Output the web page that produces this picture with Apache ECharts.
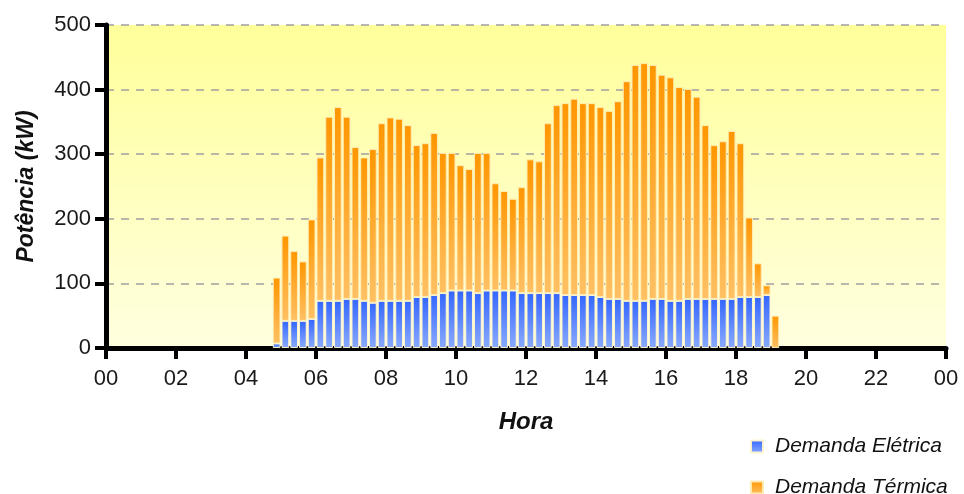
<!DOCTYPE html>
<html>
<head>
<meta charset="utf-8">
<script src="https://cdn.jsdelivr.net/npm/echarts@6/dist/echarts.min.js"></script>
<style>
html,body{margin:0;padding:0;background:#fff;}
#chart{width:964px;height:494px;}
</style>
</head>
<body>
<div id="chart"></div>
<script>
// 15-minute slots, 4 per hour (00:00 ... 23:45)
var slotLabels = [];
for (var h = 0; h < 24; h++) {
  for (var q = 0; q < 4; q++) {
    slotLabels.push((h < 10 ? '0' : '') + h + ':' + ['00','15','30','45'][q]);
  }
}

var hourTickLabels = ['00','02','04','06','08','10','12','14','16','18','20','22','00'];

var seriesNames = ['Demanda Elétrica', 'Demanda Térmica'];

// Demanda Elétrica (kW), one row per hour
var demandaEletrica = [
  0,0,0,0,    // 00
  0,0,0,0,    // 01
  0,0,0,0,    // 02
  0,0,0,0,    // 03
  0,0,0,7,    // 04
  42,42,42,45,// 05
  73,73,73,76,// 06
  76,73,70,73,// 07
  73,73,73,79,// 08
  79,82,85,89,// 09
  89,89,85,89,// 10
  89,89,89,85,// 11
  85,85,85,85,// 12
  82,82,82,82,// 13
  79,76,76,73,// 14
  73,73,76,76,// 15
  73,73,76,76,// 16
  76,76,76,76,// 17
  79,79,79,82,// 18
  0,0,0,0,    // 19
  0,0,0,0,    // 20
  0,0,0,0,    // 21
  0,0,0,0,    // 22
  0,0,0,0     // 23
];

// Demanda Térmica (kW), stacked on top of the electric demand
var demandaTermica = [
  0,0,0,0,        // 00
  0,0,0,0,        // 01
  0,0,0,0,        // 02
  0,0,0,0,        // 03
  0,0,0,102,      // 04
  132,108,92,154, // 05
  222,285,300,282,// 06
  235,222,238,275,// 07
  284,282,272,235,// 08
  238,251,217,213,// 09
  194,188,217,213,// 10
  166,154,142,164,// 11
  207,204,263,291,// 12
  297,304,297,297,// 13
  294,291,306,340,// 14
  365,368,362,347,// 15
  346,331,325,313,// 16
  269,238,244,260,// 17
  238,123,52,15,  // 18
  50,0,0,0,       // 19
  0,0,0,0,        // 20
  0,0,0,0,        // 21
  0,0,0,0,        // 22
  0,0,0,0         // 23
];

function grad(top, bottom) {
  return {type:'linear', x:0, y:0, x2:0, y2:1,
    colorStops:[{offset:0,color:top},{offset:1,color:bottom}]};
}
// empty slots drawn as no bar at all
function noZero(arr) { return arr.map(function (v) { return v === 0 ? null : v; }); }

var tickFont = "'Liberation Sans Narrow', 'Liberation Sans', Arial, sans-serif";
var titleFont = "'Liberation Sans', Arial, sans-serif";
var legendText = {fontFamily: titleFont, fontStyle: 'italic', fontSize: 21, color: '#111', padding: [0, 0, 0, 7]};

var chart = echarts.init(document.getElementById('chart'), null, {renderer:'canvas'});
chart.setOption({
  animation: false,
  backgroundColor: '#ffffff',
  grid: {
    left: 106, right: 18, top: 25, bottom: 146,
    show: true, borderWidth: 0,
    backgroundColor: grad('#ffff9a', '#ffffe0')
  },
  legend: [
    {
      left: 745, top: 431, itemWidth: 12, itemHeight: 12, icon: 'rect',
      data: [seriesNames[0]], textStyle: legendText
    },
    {
      left: 745, top: 472, itemWidth: 12, itemHeight: 12, icon: 'rect',
      data: [seriesNames[1]], textStyle: legendText
    }
  ],
  xAxis: [
    {
      type: 'category', data: slotLabels, show: false, boundaryGap: true
    },
    {
      type: 'value', min: 0, max: 24, interval: 2, position: 'bottom',
      name: 'Hora', nameLocation: 'middle', nameGap: 62,
      nameTextStyle: {fontFamily: titleFont, fontStyle: 'italic', fontWeight: 'bold', fontSize: 24, color: '#111'},
      axisLine: {show: true, onZero: false, lineStyle: {color: '#000', width: 5}},
      axisTick: {show: true, length: 11, lineStyle: {color: '#000', width: 4}},
      axisLabel: {
        margin: 20, fontFamily: tickFont, fontSize: 22, color: '#1a1a1a',
        formatter: function (v) { return hourTickLabels[Math.round(v / 2)]; }
      },
      splitLine: {show: false}
    }
  ],
  yAxis: {
    type: 'value', min: 0, max: 500, interval: 100,
    name: 'Potência (kW)', nameLocation: 'middle', nameGap: 68, nameRotate: 90,
    nameTextStyle: {fontFamily: titleFont, fontStyle: 'italic', fontWeight: 'bold', fontSize: 23, color: '#111'},
    axisLine: {show: true, onZero: false, lineStyle: {color: '#000', width: 5}},
    axisTick: {show: true, length: 11, lineStyle: {color: '#000', width: 4}},
    axisLabel: {margin: 15, fontFamily: tickFont, fontSize: 22, color: '#1a1a1a'},
    splitLine: {show: true, lineStyle: {color: '#a0a0a0', width: 1.5, type: [8, 7]}}
  },
  series: [
    {
      name: seriesNames[0], type: 'bar', stack: 'demanda', xAxisIndex: 0,
      data: noZero(demandaEletrica), barCategoryGap: '12%',
      itemStyle: {color: grad('#3366ff', '#8aaaff'), borderColor: 'rgba(255,244,205,0.95)', borderWidth: 1}
    },
    {
      name: seriesNames[1], type: 'bar', stack: 'demanda', xAxisIndex: 0,
      data: noZero(demandaTermica), barCategoryGap: '12%',
      itemStyle: {color: grad('#ff9600', '#ffc064'), borderColor: 'rgba(255,236,180,0.95)', borderWidth: 1}
    }
  ]
});
</script>
</body>
</html>
